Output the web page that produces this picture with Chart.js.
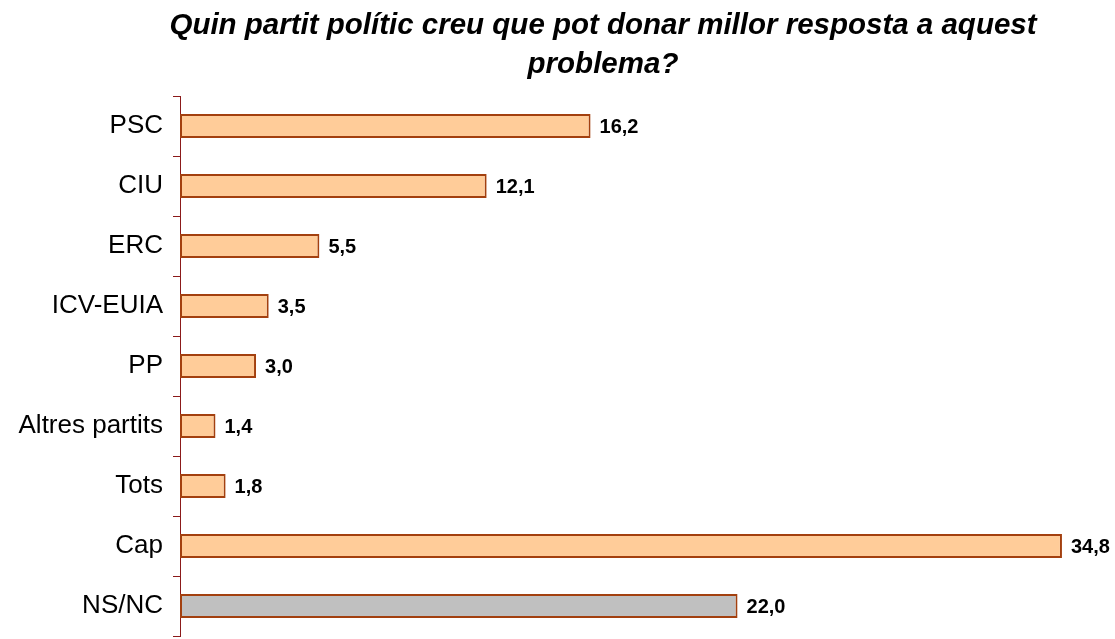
<!DOCTYPE html>
<html lang="ca">
<head>
    <meta charset="UTF-8">
    <title>Quin partit polític</title>
    <script src="https://cdn.jsdelivr.net/npm/chart.js"></script>
    <style>
        body { margin: 0; background: #fff; }
        .chart-box { width: 1115px; height: 639px; }
    </style>
</head>
<body>
    <div class="chart-box">
        <canvas id="partyChart"></canvas>
    </div>
<script>
const titleLines = ['Quin partit polític creu que pot donar millor resposta a aquest', 'problema?'];
const parties = ['PSC', 'CIU', 'ERC', 'ICV-EUIA', 'PP', 'Altres partits', 'Tots', 'Cap', 'NS/NC'];
const percents = [16.2, 12.1, 5.5, 3.5, 3.0, 1.4, 1.8, 34.8, 22.0];
const barColors = ['#FFCC99', '#FFCC99', '#FFCC99', '#FFCC99', '#FFCC99', '#FFCC99', '#FFCC99', '#FFCC99', '#C0C0C0'];

const FONT = '"Liberation Sans", Arial, sans-serif';

// title drawn by hand so it can sit off-centre like the original
const titlePlugin = {
    id: 'titleText',
    afterDraw(chart) {
        const ctx = chart.ctx;
        ctx.save();
        ctx.fillStyle = '#000';
        ctx.font = 'italic bold 29.5px ' + FONT;
        ctx.textAlign = 'center';
        ctx.textBaseline = 'alphabetic';
        ctx.fillText(titleLines[0], 603, 34);
        ctx.fillText(titleLines[1], 603, 73);
        ctx.restore();
    }
};

// value labels at the end of each bar
const valuePlugin = {
    id: 'valueLabels',
    afterDatasetsDraw(chart) {
        const ctx = chart.ctx;
        const meta = chart.getDatasetMeta(0);
        ctx.save();
        ctx.fillStyle = '#000';
        ctx.font = 'bold 20px ' + FONT;
        ctx.textAlign = 'left';
        ctx.textBaseline = 'middle';
        meta.data.forEach((bar, i) => {
            const txt = percents[i].toFixed(1).replace('.', ',');
            ctx.fillText(txt, bar.x + 9, bar.y + 1);
        });
        ctx.restore();
    }
};

new Chart(document.getElementById('partyChart'), {
    type: 'bar',
    data: {
        labels: parties,
        datasets: [{
            data: percents,
            backgroundColor: barColors,
            borderColor: '#A3400F',
            borderWidth: 2,
            borderSkipped: false,
            barPercentage: 0.4,
            categoryPercentage: 1.0
        }]
    },
    options: {
        indexAxis: 'y',
        responsive: true,
        maintainAspectRatio: false,
        animation: false,
        devicePixelRatio: 1,
        layout: { padding: { top: 96, right: 48, bottom: 3, left: 0 } },
        plugins: {
            legend: { display: false },
            tooltip: { enabled: false },
            title: { display: false }
        },
        scales: {
            x: {
                display: false,
                min: 0,
                max: 35
            },
            y: {
                afterFit(scale) {
                    scale.width = 180;
                    scale.paddingTop = 0;
                    scale.paddingBottom = 0;
                },
                border: { display: true, color: '#8B1A1A', width: 1 },
                grid: {
                    display: true,
                    drawOnChartArea: false,
                    drawTicks: true,
                    tickLength: 7,
                    color: '#8B1A1A'
                },
                ticks: {
                    color: '#000',
                    padding: 10,
                    font: { family: FONT, size: 26 }
                }
            }
        }
    },
    plugins: [titlePlugin, valuePlugin]
});
</script>
</body>
</html>
